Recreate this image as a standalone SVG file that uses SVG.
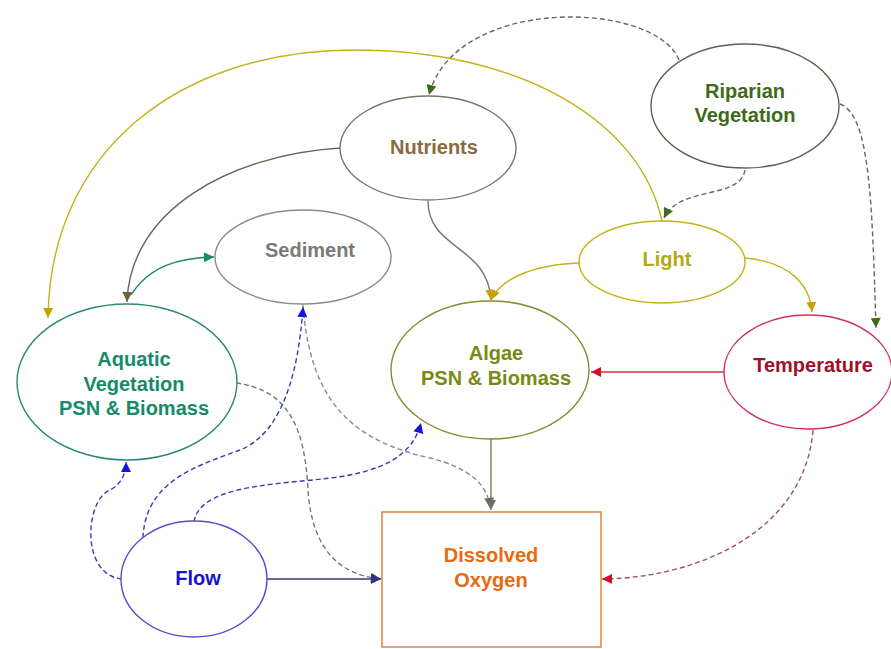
<svg xmlns="http://www.w3.org/2000/svg" width="891" height="649" viewBox="0 0 891 649">
<defs>
<style>
.n{fill:#fff;stroke-width:1.4}
.t{font-family:"Liberation Sans",Arial,sans-serif;font-weight:bold;font-size:20px;text-anchor:middle}
.c{fill:none;stroke-width:1.4}
.d{stroke-dasharray:5 3}
</style>
<marker id="mGold" viewBox="0 0 10 10" refX="10" refY="5" markerWidth="11" markerHeight="10" markerUnits="userSpaceOnUse" orient="auto"><path d="M0,0L10,5L0,10z" fill="#c8a000"/></marker>
<marker id="mGreen" viewBox="0 0 10 10" refX="10" refY="5" markerWidth="11" markerHeight="10" markerUnits="userSpaceOnUse" orient="auto"><path d="M0,0L10,5L0,10z" fill="#3f6a1e"/></marker>
<marker id="mBrown" viewBox="0 0 10 10" refX="10" refY="5" markerWidth="11" markerHeight="10" markerUnits="userSpaceOnUse" orient="auto"><path d="M0,0L10,5L0,10z" fill="#6a6040"/></marker>
<marker id="mTeal" viewBox="0 0 10 10" refX="10" refY="5" markerWidth="11" markerHeight="10" markerUnits="userSpaceOnUse" orient="auto"><path d="M0,0L10,5L0,10z" fill="#178a6a"/></marker>
<marker id="mBlue" viewBox="0 0 10 10" refX="10" refY="5" markerWidth="11" markerHeight="10" markerUnits="userSpaceOnUse" orient="auto"><path d="M0,0L10,5L0,10z" fill="#1414e0"/></marker>
<marker id="mRed" viewBox="0 0 10 10" refX="10" refY="5" markerWidth="11" markerHeight="10" markerUnits="userSpaceOnUse" orient="auto"><path d="M0,0L10,5L0,10z" fill="#d0102a"/></marker>
<marker id="mGray" viewBox="0 0 10 10" refX="10" refY="5" markerWidth="11" markerHeight="10" markerUnits="userSpaceOnUse" orient="auto"><path d="M0,0L10,5L0,10z" fill="#6e6e60"/></marker>
<marker id="mNavy" viewBox="0 0 10 10" refX="10" refY="5" markerWidth="11" markerHeight="10" markerUnits="userSpaceOnUse" orient="auto"><path d="M0,0L10,5L0,10z" fill="#34347a"/></marker>
</defs>
<rect width="891" height="649" fill="#fff"/>
<g id="connectors">
<path class="c d" stroke="#666" d="M679 60 C655 0 455 -5 429 95" marker-end="url(#mGreen)"/>
<path class="c" stroke="#c0b418" d="M662 221 C640 120 520 50 355 50 C180 50 50 150 48 318" marker-end="url(#mGold)"/>
<path class="c" stroke="#6a6458" d="M340 148 C230 155 130 210 127 302" marker-end="url(#mBrown)"/>
<path class="c" stroke="#178a6a" d="M131 295 C150 265 180 258 214 257" marker-end="url(#mTeal)"/>
<path class="c" stroke="#77746a" d="M428 201 C428 250 488 245 491 300" marker-end="url(#mGold)"/>
<path class="c" stroke="#c0b418" d="M579 263 C530 265 500 280 491 300" marker-end="url(#mGold)"/>
<path class="c" stroke="#c0b418" d="M745 258 C790 262 810 285 812 312" marker-end="url(#mGold)"/>
<path class="c d" stroke="#666" d="M745 170 C740 200 680 185 664 218" marker-end="url(#mGreen)"/>
<path class="c d" stroke="#666" d="M840 104 C870 115 872 200 876 328" marker-end="url(#mGreen)"/>
<path class="c" stroke="#d0304a" d="M725 372 L591 372" marker-end="url(#mRed)"/>
<path class="c d" stroke="#a05068" d="M813 430 C805 530 700 578 602 579" marker-end="url(#mRed)"/>
<path class="c" stroke="#7a7a58" d="M491 439 L491 510" marker-end="url(#mGray)"/>
<path class="c d" stroke="#8a8a8a" d="M303 305 C310 400 350 440 430 458 C470 468 488 485 490 508" marker-end="url(#mGray)"/>
<path class="c d" stroke="#6a7a80" d="M236 383 C290 390 305 430 308 490 C312 550 340 575 381 579" marker-end="url(#mNavy)"/>
<path class="c" stroke="#34347a" d="M267 579 L381 579" marker-end="url(#mNavy)"/>
<path class="c d" stroke="#3a3ab0" d="M122 579 C80 575 85 500 110 490 C120 485 126 475 126 462" marker-end="url(#mBlue)"/>
<path class="c d" stroke="#3a3ab0" d="M143 538 C145 480 200 465 240 450 C290 430 300 350 303 307" marker-end="url(#mBlue)"/>
<path class="c d" stroke="#3a3ab0" d="M194 522 C200 480 300 485 350 475 C400 465 415 445 421 423" marker-end="url(#mBlue)"/>
</g>
<g id="riparian"><ellipse class="n" cx="745" cy="106" rx="94" ry="62" stroke="#5a6450"/><text class="t" x="745" y="98" fill="#3f6a1e">Riparian</text><text class="t" x="745" y="122" fill="#3f6a1e">Vegetation</text></g>
<g id="nutrients"><ellipse class="n" cx="428" cy="148" rx="88" ry="52" stroke="#77746a"/><text class="t" x="434" y="154" fill="#8a6a3e">Nutrients</text></g>
<g id="sediment"><ellipse class="n" cx="303" cy="257" rx="88" ry="47" stroke="#8a8a8a"/><text class="t" x="310" y="257" fill="#7a7a7a">Sediment</text></g>
<g id="light"><ellipse class="n" cx="662" cy="262" rx="83" ry="41" stroke="#c0b418"/><text class="t" x="667" y="266" fill="#b5a818">Light</text></g>
<g id="aquatic"><ellipse class="n" cx="127" cy="382" rx="110" ry="78" stroke="#2a8a78"/><text class="t" x="134" y="366" fill="#178a6a">Aquatic</text><text class="t" x="134" y="391" fill="#178a6a">Vegetation</text><text class="t" x="134" y="415" fill="#178a6a">PSN &amp; Biomass</text></g>
<g id="algae"><ellipse class="n" cx="490" cy="370" rx="99" ry="69" stroke="#8a8a30"/><text class="t" x="496" y="360" fill="#7a8a10">Algae</text><text class="t" x="496" y="385" fill="#7a8a10">PSN &amp; Biomass</text></g>
<g id="temperature"><ellipse class="n" cx="808" cy="372" rx="84" ry="57" stroke="#d0305a"/><text class="t" x="813" y="372" fill="#a0102a">Temperature</text></g>
<g id="flow"><ellipse class="n" cx="194" cy="579" rx="73" ry="58" stroke="#5a4ad0"/><text class="t" x="198" y="585" fill="#1414d0">Flow</text></g>
<g id="do"><rect class="n" x="382" y="512" width="219" height="135" stroke="#e07a30"/><text class="t" x="491" y="562" fill="#e86a10">Dissolved</text><text class="t" x="491" y="587" fill="#e86a10">Oxygen</text></g>
</svg>
